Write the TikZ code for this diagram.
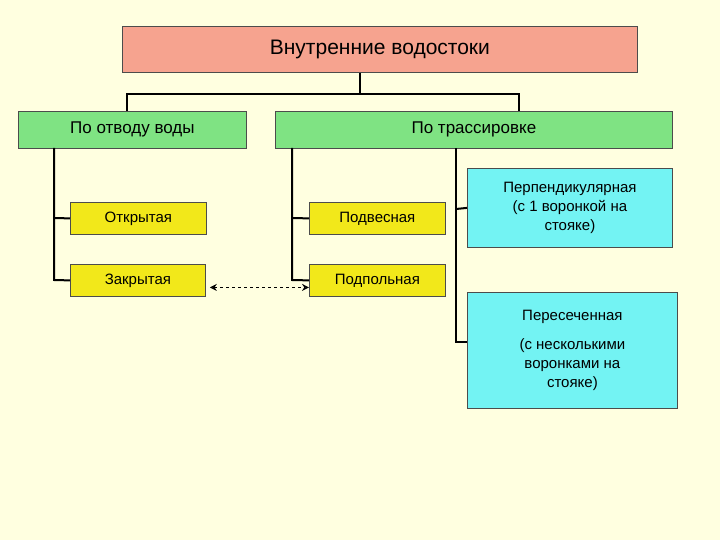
\documentclass[tikz,border=0pt]{standalone}
\usepackage{fontspec}
\setmainfont{Liberation Sans}
\usetikzlibrary{arrows.meta}
\definecolor{bg}{HTML}{FFFFE0}
\definecolor{salmon}{HTML}{F6A38F}
\definecolor{grn}{HTML}{7FE383}
\definecolor{yel}{HTML}{F2E81A}
\definecolor{cyn}{HTML}{73F3F3}
\tikzset{
  box/.style={draw=black!70, line width=0.8pt, anchor=north west, inner sep=0pt, align=center},
  ln/.style={line width=2pt, black},
}
\begin{document}
\begin{tikzpicture}[x=1pt,y=-1pt]
\fill[bg] (0,0) rectangle (720,540);
\useasboundingbox (0,0) rectangle (720,540);
\node[box, fill=salmon, minimum width=515pt, minimum height=46pt, font=\fontsize{21}{24}\selectfont] (t) at (122,26) {Внутренние водостоки};
\node[box, fill=grn, minimum width=228pt, minimum height=37pt, font=\fontsize{17}{20}\selectfont] (g1) at (18,111) {По отводу воды};
\node[box, fill=grn, minimum width=397pt, minimum height=37pt, font=\fontsize{17}{20}\selectfont] (g2) at (275,111) {По трассировке};
\node[box, fill=yel, minimum width=136pt, minimum height=32pt, font=\fontsize{15}{18}\selectfont] (o) at (70,202) {Открытая};
\node[box, fill=yel, minimum width=135pt, minimum height=32pt, font=\fontsize{15}{18}\selectfont] (z) at (70,264) {Закрытая};
\node[box, fill=yel, minimum width=136pt, minimum height=32pt, font=\fontsize{15}{18}\selectfont] (p) at (309,202) {Подвесная};
\node[box, fill=yel, minimum width=136pt, minimum height=32pt, font=\fontsize{15}{18}\selectfont] (pp) at (309,264) {Подпольная};
\node[box, fill=cyn, minimum width=205pt, minimum height=79pt, font=\fontsize{15}{19}\selectfont] (c1) at (467,168) {Перпендикулярная\\(с 1 воронкой на\\стояке)};
\node[box, fill=cyn, minimum width=210pt, minimum height=116pt, font=\fontsize{15}{19}\selectfont] (c2) at (467,292) {Пересеченная\\[10pt](с несколькими\\воронками на\\стояке)};
% top connector
\coordinate (h) at (360,94);
\draw[ln] (t.south -| h) -- (h);
\draw[ln] (127,111) -- (127,94) -- (519,94) -- (519,111);
% left tree
\draw[ln] (54,148) -- (54,280) -- (z.west);
\draw[ln] (54,218) -- (o.west);
% middle tree
\draw[ln] (292,148) -- (292,280) -- (pp.west);
\draw[ln] (292,218) -- (p.west);
% right tree
\draw[ln] (456,148) -- (456,342) -- (467,342);
\draw[ln] (456,209) -- (c1.west);
% dashed arrow
\draw[line width=1.6pt, dashed, {Stealth[open,length=7pt,width=7pt]}-{Stealth[open,length=7pt,width=7pt]}] (z.east) ++(4,7) coordinate (a1) -- (a1 -| pp.west);
\end{tikzpicture}
\end{document}
